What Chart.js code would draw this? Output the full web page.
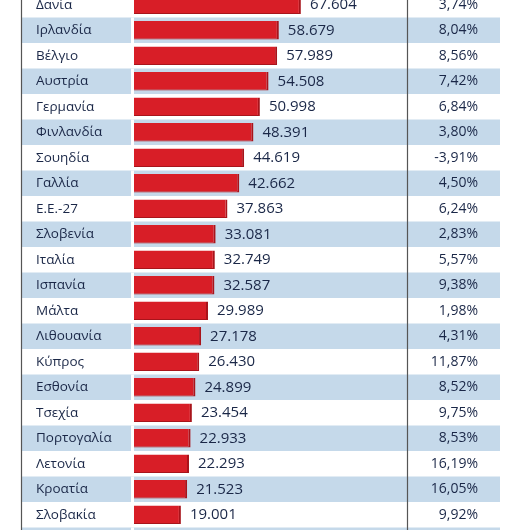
<!DOCTYPE html>
<html><head><meta charset="utf-8">
<script src="https://cdn.jsdelivr.net/npm/chart.js@4/dist/chart.umd.min.js"></script>
<style>html,body{margin:0;padding:0;background:#fff;overflow:hidden;width:526px;height:530px}
#wrap{position:absolute;left:0;top:-8px;width:526px;height:561px}</style>
</head><body><div id="wrap"><canvas id="c"></canvas></div>
<script>
const countries=["Δανία","Ιρλανδία","Βέλγιο","Αυστρία","Γερμανία","Φινλανδία","Σουηδία","Γαλλία","Ε.Ε.-27","Σλοβενία","Ιταλία","Ισπανία","Μάλτα","Λιθουανία","Κύπρος","Εσθονία","Τσεχία","Πορτογαλία","Λετονία","Κροατία","Σλοβακία","Πολωνία"];
const values=[67604,58679,57989,54508,50998,48391,44619,42662,37863,33081,32749,32587,29989,27178,26430,24899,23454,22933,22293,21523,19001,17700];
const valueLabels=["67.604","58.679","57.989","54.508","50.998","48.391","44.619","42.662","37.863","33.081","32.749","32.587","29.989","27.178","26.430","24.899","23.454","22.933","22.293","21.523","19.001",""];
const changes=["3,74%","8,04%","8,56%","7,42%","6,84%","3,80%","-3,91%","4,50%","6,24%","2,83%","5,57%","9,38%","1,98%","4,31%","11,87%","8,52%","9,75%","8,53%","16,19%","16,05%","9,92%",""];
const tablePlugin={id:'table',
beforeDatasetsDraw(ch){const c=ch.ctx,y=ch.scales.y;c.save();
 countries.forEach((n,i)=>{const h=y.getPixelForValue(1)-y.getPixelForValue(0);const cy=y.getPixelForValue(i);
  if(i%2==1){c.fillStyle='#c5d9ea';c.fillRect(22,cy-h/2,478,h);c.fillStyle='#fff';c.fillRect(131,cy-h/2,3,h);}});
 c.strokeStyle='#555';c.lineWidth=1.2;[21.5,407.5].forEach(x=>{c.beginPath();c.moveTo(x,0);c.lineTo(x,ch.height);c.stroke();});
 c.restore();},
afterDatasetsDraw(ch){const c=ch.ctx,y=ch.scales.y,x=ch.scales.x;c.save();c.textBaseline='middle';
 c.fillStyle='#1a2747';
 countries.forEach((n,i)=>{const cy=y.getPixelForValue(i);
  c.font='13.5px "Open Sans", sans-serif';c.textAlign='left';c.fillText(n,36,cy);
  c.font='15px "Open Sans", sans-serif';c.fillText(valueLabels[i],x.getPixelForValue(values[i])+9,cy);
  c.font='14px "Open Sans", sans-serif';c.textAlign='right';c.fillText(changes[i],478,cy);});
 c.restore();}};
new Chart(document.getElementById('c'),{type:'bar',
data:{labels:countries,datasets:[{data:values,backgroundColor:'#d81e27',borderColor:'#a8141b',borderWidth:{right:2,bottom:1},borderSkipped:'left',barPercentage:0.72,categoryPercentage:1}]},
options:{indexAxis:'y',responsive:true,maintainAspectRatio:false,animation:false,
 layout:{padding:{left:134,right:118,top:0,bottom:0}},
 scales:{x:{display:false,min:0,max:111000},y:{display:false}},
 plugins:{legend:{display:false},tooltip:{enabled:false}}},
plugins:[tablePlugin]});
</script></body></html>
